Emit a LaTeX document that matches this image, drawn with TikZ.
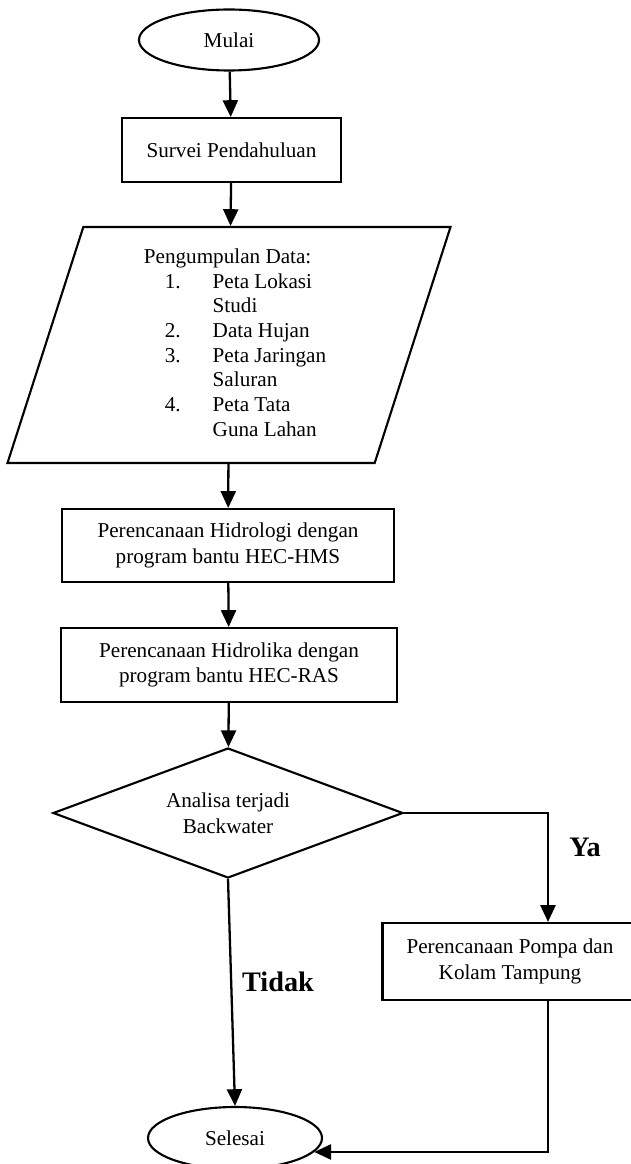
\documentclass[tikz,border=0pt]{standalone}
\usepackage{fontspec}
\setmainfont{Liberation Serif}
\usepackage{tikz}
\usetikzlibrary{shapes.geometric, arrows.meta}

\newlength{\skala}
\setlength{\skala}{0.567pt}

\begin{document}
\begin{tikzpicture}[x=\skala, y=-\skala]
        \tikzstyle{every node} = [font=\fontsize{12}{14.5}\selectfont, line width=1.2pt]
        \tikzstyle{kotak}  = [draw, rectangle, align=center, inner sep=0pt]
        \tikzstyle{elips}  = [draw, ellipse, inner sep=0pt]
        \tikzstyle{jajar}  = [draw, trapezium, trapezium left angle=69, trapezium right angle=111, trapezium stretches body, inner sep=0pt]
        \tikzstyle{belah}  = [draw, diamond, aspect=2.7, align=center, inner sep=0pt]
        \tikzstyle{panah}  = [line width=1.3pt, -{Triangle[length=9.5pt, width=8.5pt]}]
        \tikzstyle{jawab}  = [font=\fontsize{16}{19}\selectfont\bfseries]

        \def\geser{38}

        \useasboundingbox (0,0) rectangle (630,1164);

        \node[elips, minimum width=180*\skala, minimum height=61*\skala] (mulai) at (229,40) {Mulai};
        \node[kotak, minimum width=219*\skala, minimum height=64*\skala] (survei) at (231.5,150) {Survei Pendahuluan};
        \node[jajar, minimum width=443*\skala, minimum height=236*\skala] (data) at (229,345) {%
            \fontsize{12}{14}\selectfont
            \begin{tabular}{@{\hspace{33\skala}}r@{\hspace{32\skala}}l@{}}
                \multicolumn{2}{@{\hspace{12\skala}}l@{}}{Pengumpulan Data:}\\
                1. & Peta Lokasi\\
                   & Studi\\
                2. & Data Hujan\\
                3. & Peta Jaringan\\
                   & Saluran\\
                4. & Peta Tata\\
                   & Guna Lahan
            \end{tabular}\vspace{6\skala}};
        \node[kotak, minimum width=332*\skala, minimum height=73*\skala] (hidrologi) at (228,545.5) {Perencanaan Hidrologi dengan\\program bantu HEC-HMS};
        \node[kotak, minimum width=336*\skala, minimum height=74*\skala] (hidrolika) at (229,665) {Perencanaan Hidrolika dengan\\program bantu HEC-RAS};
        \node[belah, minimum width=350*\skala, minimum height=130*\skala] (analisa) at (228,813) {Analisa terjadi\\Backwater};
        \node[kotak, minimum width=255*\skala, minimum height=77*\skala] (pompa) at (510,961.5) {Perencanaan Pompa dan\\Kolam Tampung};
        \node[elips, minimum width=174*\skala, minimum height=62*\skala] (selesai) at (235,1138) {Selesai};

        \node[jawab] (ya) at (585,847) {Ya};
        \node[jawab] (tidak) at (278,982) {Tidak};

        \foreach \a/\b in {mulai/survei, survei/data, data/hidrologi, hidrologi/hidrolika, hidrolika/analisa}
            \draw[panah] (\a) -- (\b);

        \draw[panah] (analisa.east) -| ([xshift=\geser*\skala]pompa.north);
        \draw[panah] (analisa.south) -- (selesai.north);
        \draw[panah] ([xshift=\geser*\skala]pompa.south) |- (selesai.-10);
    \end{tikzpicture}
\end{document}
